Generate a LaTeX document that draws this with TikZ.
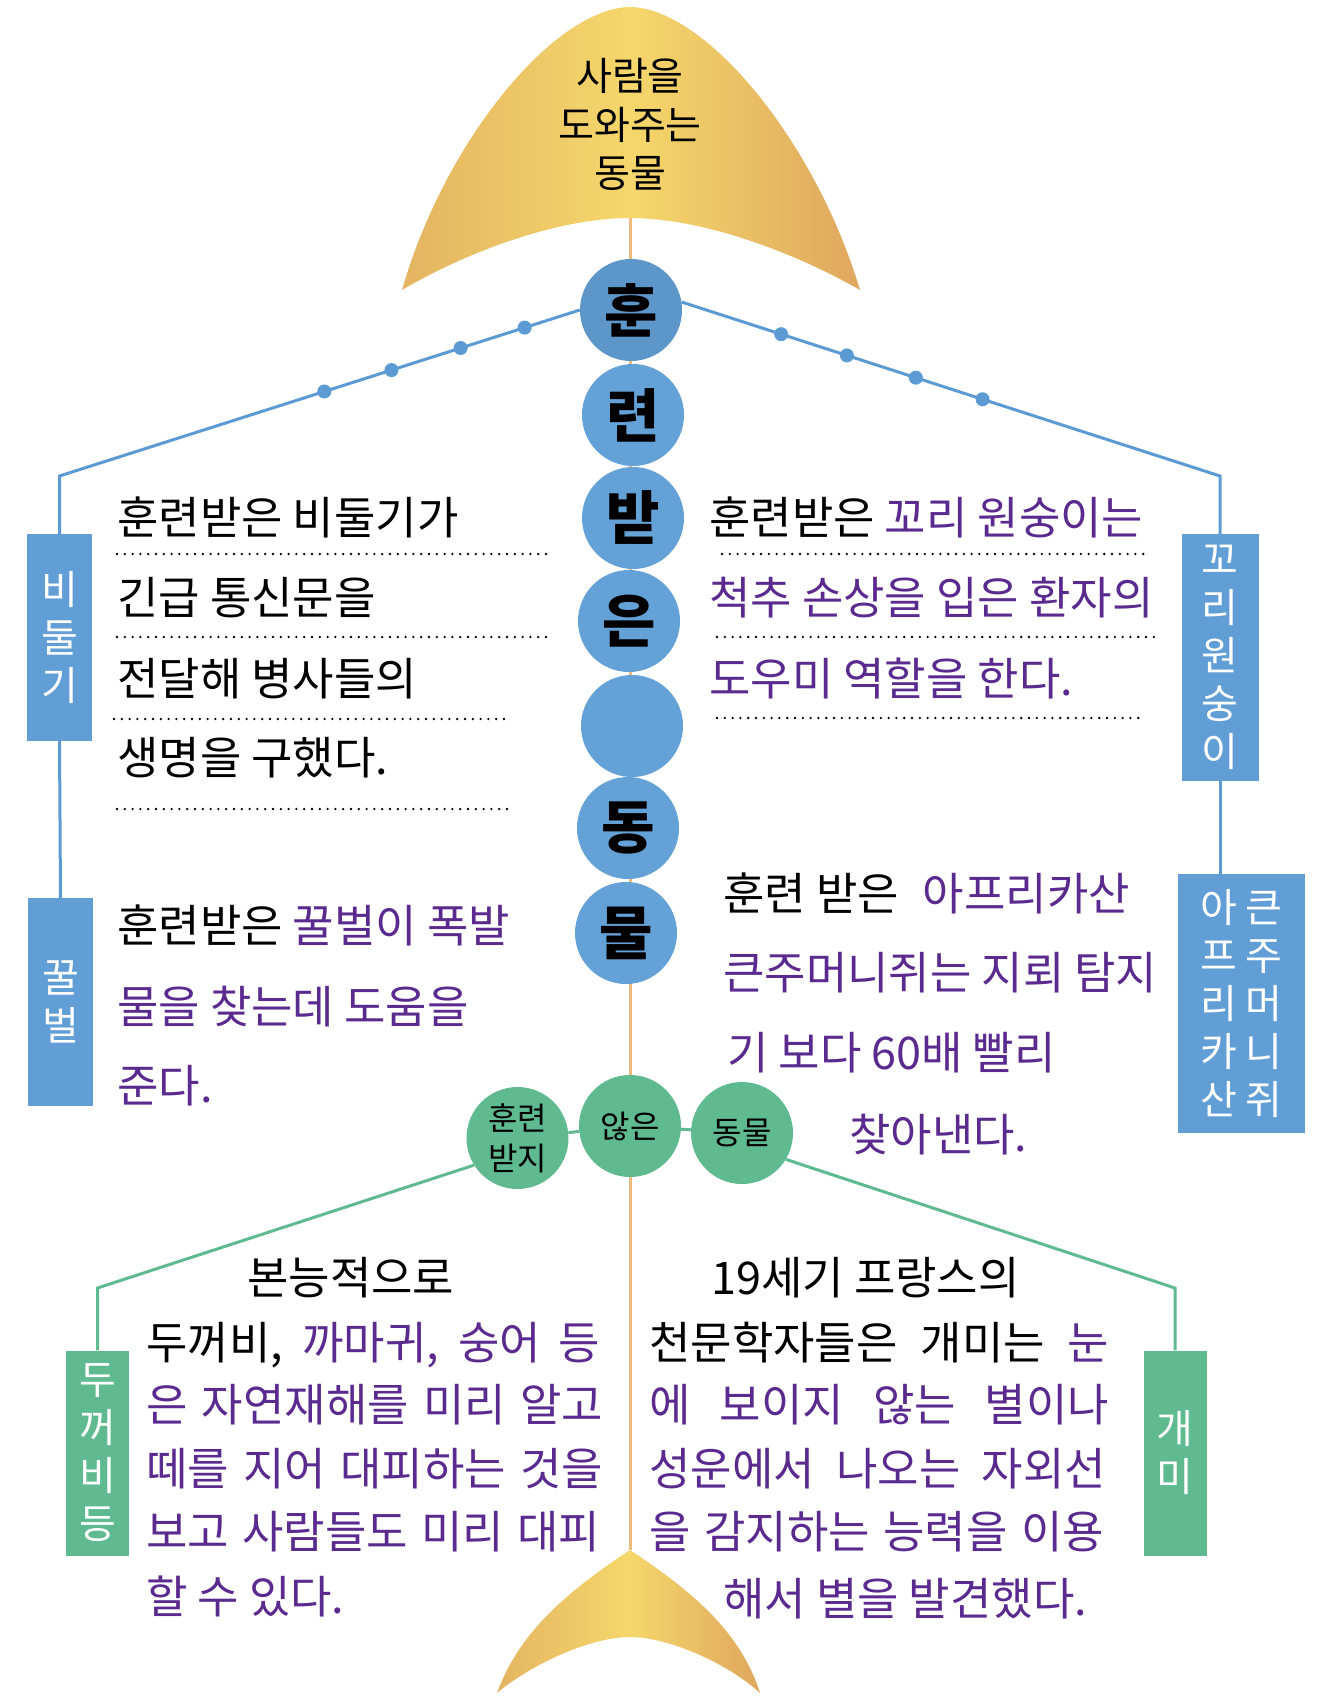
\documentclass[tikz,border=0pt]{standalone}
\usepackage{fontspec}
\setmainfont{Noto Sans CJK KR}
\definecolor{headL}{HTML}{E4B462}
\definecolor{headM}{HTML}{F5D76B}
\definecolor{headR}{HTML}{DFA75E}
\definecolor{spine}{HTML}{EDBA7E}
\definecolor{bluedark}{HTML}{5D97CA}
\definecolor{bluec}{HTML}{64A1D7}
\definecolor{blueline}{HTML}{5B9AD3}
\definecolor{bluebox}{HTML}{619ED5}
\definecolor{greenc}{HTML}{5FBB8F}
\definecolor{purp}{HTML}{5A2A8F}
\begin{document}
\begin{tikzpicture}[x=1pt,y=-1pt,
  blueball/.style={circle,fill=bluec,minimum size=102pt,inner sep=0pt,font=\fontsize{58}{58}\selectfont\bfseries},
  greenball/.style={circle,fill=greenc,minimum size=102pt,inner sep=0pt,align=center,font=\fontsize{32}{40}\selectfont},
  bbox/.style={rectangle,fill=bluebox,text=white,inner sep=0pt,align=center,font=\fontsize{40}{48}\selectfont},
  gbox/.style={rectangle,fill=greenc,text=white,inner sep=0pt,align=center,font=\fontsize{40}{48}\selectfont},
  body/.style={anchor=base west,inner sep=0pt,font=\fontsize{45}{50}\selectfont},
  dotline/.style={line width=2.6pt,dash pattern=on 0pt off 7.8pt,line cap=round},
  bline/.style={draw=blueline,line width=3pt},
  gline/.style={draw=greenc,line width=3pt},
  bdot/.style={circle,fill=blueline,inner sep=0pt,minimum size=14pt},
  fishfill/.style={left color=headL,right color=headR,middle color=headM},
]
\useasboundingbox (0,0) rectangle (1318,1697);
\fill[white] (0,0) rectangle (1318,1697);

% head
\shade[fishfill]
  (402,290) .. controls (445,140) and (555,8) .. (630,7)
  .. controls (705,8) and (815,140) .. (860,290)
  .. controls (790,250) and (700,218) .. (630,218)
  .. controls (560,218) and (470,250) .. (402,290) -- cycle;
% tail
\shade[fishfill]
  (630,1550) .. controls (570,1590) and (520,1630) .. (497,1693)
  .. controls (530,1665) and (590,1637) .. (630,1637)
  .. controls (670,1637) and (730,1665) .. (760,1693)
  .. controls (740,1630) and (690,1590) .. (630,1550) -- cycle;

\coordinate (headbot) at (630,218);
\coordinate (tailtop) at (630,1550);
\draw[spine,line width=3pt] (headbot) -- (tailtop);

\node[font=\fontsize{39}{48.5}\selectfont,align=center] (title) at (630,124.5) {사람을\\도와주는\\동물};

% spine circles
\node[blueball,fill=bluedark] (h1) at (631,310) {훈};
\node[blueball] (h2) at (633,415) {련};
\node[blueball] (h3) at (633,518) {받};
\node[blueball] (h4) at (629,621) {은};
\node[blueball] (h5) at (632,726) {};
\node[blueball] (h6) at (628,828) {동};
\node[blueball] (h7) at (626,933) {물};

% green circles
\node[greenball] (g1) at (517.5,1138) {훈련\\받지};
\node[greenball] (g2) at (630,1126) {않은};
\node[greenball] (g3) at (742,1133) {동물};
\draw[gline] (g1) -- (g2);
\draw[gline] (g2) -- (g3);

% boxes
\node[bbox,minimum width=65pt,minimum height=207pt] (bx1) at (59.5,637.5) {비\\둘\\기};
\node[bbox,minimum width=65pt,minimum height=208pt] (bx2) at (60.5,1002) {꿀\\벌};
\node[bbox,minimum width=77pt,minimum height=247pt] (bx3) at (1220,657.5) {꼬\\리\\원\\숭\\이};
\node[bbox,minimum width=127pt,minimum height=259pt] (bx4) at (1241,1003.5) {아\hspace{8pt}큰\\프\hspace{8pt}주\\리\hspace{8pt}머\\카\hspace{8pt}니\\산\hspace{8pt}쥐};
\node[gbox,minimum width=63pt,minimum height=205pt] (bx5) at (97.5,1453) {두\\꺼\\비\\등};
\node[gbox,minimum width=63pt,minimum height=205pt] (bx6) at (1175,1453) {개\\미};

% blue connectors
\coordinate (cL) at (59.5,476);
\coordinate (cR) at (1220,476);
\draw[bline] (h1.180) -- node[bdot,pos=0.106] (dl1) {} node[bdot,pos=0.229] (dl2) {} node[bdot,pos=0.362] (dl3) {} node[bdot,pos=0.491] (dl4) {} (cL) -- (bx1.north);
\draw[bline] (h1.9) -- node[bdot,pos=0.185] (dr1) {} node[bdot,pos=0.307] (dr2) {} node[bdot,pos=0.435] (dr3) {} node[bdot,pos=0.559] (dr4) {} (cR) -- (bx3.north);
\draw[bline] (bx1.south) -- (bx2.north);
\draw[bline] (bx3.south) -- (bx3.south |- bx4.north);

% green connectors
\coordinate (gL) at (97.5,1288);
\coordinate (gR) at (1175,1288);
\draw[gline] (g1.212) -- (gL) -- (bx5.north);
\draw[gline] (g3.329) -- (gR) -- (bx6.north);

% left top text
\node[body] (lt1) at (117,534) {훈련받은 비둘기가};
\node[body] (lt2) at (117,614) {긴급 통신문을};
\node[body] (lt3) at (117,695) {전달해 병사들의};
\node[body] (lt4) at (117,774) {생명을 구했다.};
\draw[dotline] (117,554) -- (546,554);
\draw[dotline] (117,637) -- (550,637);
\draw[dotline] (114,719) -- (506,719);
\draw[dotline] (117,809) -- (511,809);

% right top text
\node[body] (rt1) at (709,534) {훈련받은 \textcolor{purp}{꼬리 원숭이는}};
\node[body,text=purp] (rt2) at (709,614) {척추 손상을 입은 환자의};
\node[body,text=purp] (rt3) at (709,695) {도우미 역할을 한다.};
\draw[dotline] (722,554) -- (1147,554);
\draw[dotline] (717,637) -- (1156,637);
\draw[dotline] (717,718) -- (1139,718);

% left middle text
\node[body] (lm1) at (117,942) {훈련받은 \textcolor{purp}{꿀벌이 폭발}};
\node[body,text=purp] (lm2) at (117,1023) {물을 찾는데 도움을};
\node[body,text=purp] (lm3) at (117,1102) {준다.};

% right middle text
\node[body] (rm1) at (723,910) {훈련 받은\hspace{24pt}\textcolor{purp}{아프리카산}};
\node[body,text=purp] (rm2) at (723,989) {큰주머니쥐는 지뢰 탐지};
\node[body,text=purp] (rm3) at (727,1069) {기 보다 60배 빨리};
\node[body,text=purp] (rm4) at (849,1151) {찾아낸다.};

% bottom left text
\node[body] (bl1) at (247,1294) {본능적으로};
\node[body] (bl2) at (146,1359) {\makebox[454pt][s]{두꺼비, \textcolor{purp}{까마귀, 숭어 등}}};
\node[body,text=purp] (bl3) at (146,1421) {\makebox[457pt][s]{은 자연재해를 미리 알고}};
\node[body,text=purp] (bl4) at (146,1485) {\makebox[457pt][s]{떼를 지어 대피하는 것을}};
\node[body,text=purp] (bl5) at (146,1548) {\makebox[454pt][s]{보고 사람들도 미리 대피}};
\node[body,text=purp] (bl6) at (146,1613) {할 수 있다.};

% bottom right text
\node[body] (br1) at (711,1294) {19세기 프랑스의};
\node[body] (br2) at (649,1359) {\makebox[460pt][s]{천문학자들은 개미는 \textcolor{purp}{눈}}};
\node[body,text=purp] (br3) at (649,1421) {\makebox[460pt][s]{에 보이지 않는 별이나}};
\node[body,text=purp] (br4) at (649,1485) {\makebox[457pt][s]{성운에서 나오는 자외선}};
\node[body,text=purp] (br5) at (649,1548) {\makebox[455pt][s]{을 감지하는 능력을 이용}};
\node[body,text=purp] (br6) at (723,1615) {해서 별을 발견했다.};
\end{tikzpicture}
\end{document}
